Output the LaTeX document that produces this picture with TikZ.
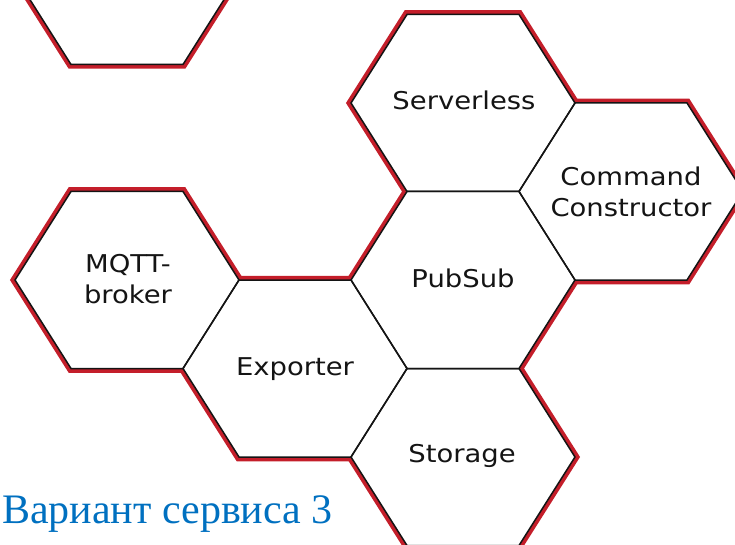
\documentclass[tikz,border=0pt]{standalone}
\usepackage{fontspec}
\newfontfamily\hexfont[FakeStretch=1.12]{DejaVu Sans}
\newfontfamily\capfont{Liberation Serif}
\definecolor{hexred}{RGB}{196,30,42}
\definecolor{capblue}{RGB}{0,112,192}
\definecolor{hexink}{RGB}{20,20,20}
\newcommand{\hexat}[2]{(#1-112,#2) -- (#1-56,#2-88.5) -- (#1+56,#2-88.5) -- (#1+112,#2) -- (#1+56,#2+88.5) -- (#1-56,#2+88.5) -- cycle}
\tikzset{
  redrim/.style={draw=hexred, line width=8.5pt, line join=miter},
  hexfill/.style={fill=white},
  hexedge/.style={draw=hexink, line width=1.5pt, line join=miter},
  hexlabel/.style={font=\hexfont\fontsize{24.5}{31}\selectfont, text=hexink, align=center, inner sep=0pt, anchor=base},
  caption/.style={font=\capfont\fontsize{42}{48}\selectfont, text=capblue, inner sep=0pt, anchor=base west}
}
\begin{document}
\begin{tikzpicture}[x=1pt,y=-1pt]
\useasboundingbox (0,0) rectangle (735,545);
\clip (0,0) rectangle (735,545);
% red outer rims
\path[redrim] (15,280) -- (71,191.5) -- (183,191.5) -- (239,280) -- (351,280) -- (407,191.5) -- (351,103) -- (407,14.5) -- (519,14.5) -- (575,103) -- (687,103) -- (743,191.5) -- (687,280) -- (575,280) -- (519,368.5) -- (575,457) -- (519,545.5) -- (407,545.5) -- (351,457) -- (239,457) -- (183,368.5) -- (71,368.5) -- cycle;
\path[redrim] \hexat{127}{-24};
% white fills
\foreach \cx/\cy in {127/-24, 127/280, 295/368.5, 463/103, 463/280, 463/457, 631/191.5}
  \path[hexfill] \hexat{\cx}{\cy};
% black edges
\foreach \cx/\cy in {127/-24, 127/280, 295/368.5, 463/103, 463/280, 463/457, 631/191.5}
  \path[hexedge] \hexat{\cx}{\cy};
% labels
\node[hexlabel] (serverless) at (464,110) {Serverless};
\node[hexlabel] (command) at (631,216) {Command\\Constructor};
\node[hexlabel] (mqtt) at (128,303) {MQTT-\\broker};
\node[hexlabel] (pubsub) at (463,287) {PubSub};
\node[hexlabel] (exporter) at (295,375) {Exporter};
\node[hexlabel] (storage) at (462,462) {Storage};
\node[caption] (title) at (2,523) {Вариант сервиса 3};
\end{tikzpicture}
\end{document}
